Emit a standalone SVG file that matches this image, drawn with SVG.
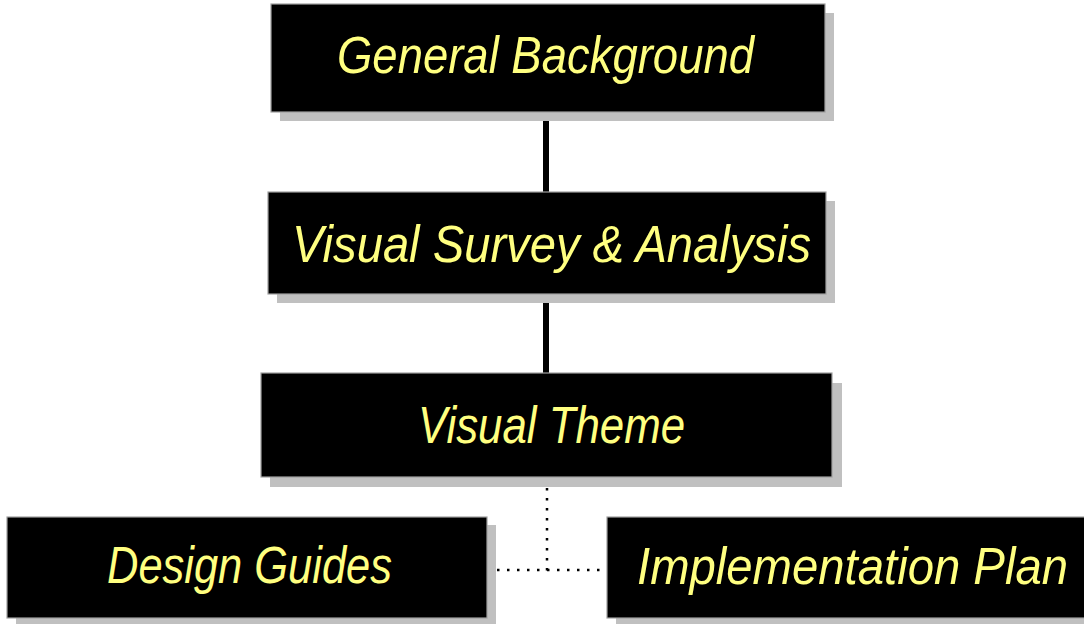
<svg xmlns="http://www.w3.org/2000/svg" width="1084" height="624" viewBox="0 0 1084 624">
<style>
.shadow{fill:#c0c0c0}
.box{fill:#000;stroke:#a0a0a0;stroke-width:1.2}
.lbl{font-family:"Liberation Sans Narrow","Liberation Sans",Arial,sans-serif;font-style:italic;font-size:52px;fill:#ffff80}
.solid{stroke:#000;stroke-width:6;fill:none}
.dot{stroke:#000;stroke-width:2.5;stroke-dasharray:2.5 7.5;fill:none}
</style>
<rect width="1084" height="624" fill="#fff"/>
<g id="connectors">
<line class="solid" x1="546" y1="120" x2="546" y2="193"/>
<line class="solid" x1="546" y1="301" x2="546" y2="374"/>
<line class="dot" x1="547" y1="488" x2="547" y2="571"/>
<line class="dot" x1="497" y1="570" x2="600" y2="570"/>
</g>
<g id="general-background">
<rect class="shadow" x="280" y="13" width="554" height="108"/>
<rect class="box" x="271" y="4" width="554" height="108"/>
<text class="lbl" x="337" y="73" textLength="417" lengthAdjust="spacingAndGlyphs">General Background</text>
</g>
<g id="visual-survey">
<rect class="shadow" x="277" y="201" width="558" height="102"/>
<rect class="box" x="268" y="192" width="558" height="102"/>
<text class="lbl" x="292" y="262" textLength="519" lengthAdjust="spacingAndGlyphs">Visual Survey &amp; Analysis</text>
</g>
<g id="visual-theme">
<rect class="shadow" x="270" y="383" width="572" height="104"/>
<rect class="box" x="261" y="373" width="571" height="104"/>
<text class="lbl" x="418" y="443" textLength="267" lengthAdjust="spacingAndGlyphs">Visual Theme</text>
</g>
<g id="design-guides">
<rect class="shadow" x="16" y="525" width="480" height="101"/>
<rect class="box" x="7" y="517" width="480" height="101"/>
<text class="lbl" x="107" y="583" textLength="285" lengthAdjust="spacingAndGlyphs">Design Guides</text>
</g>
<g id="implementation-plan">
<rect class="shadow" x="616" y="525" width="490" height="101"/>
<rect class="box" x="607" y="517" width="490" height="101"/>
<text class="lbl" x="637" y="584" textLength="431" lengthAdjust="spacingAndGlyphs">Implementation Plan</text>
</g>
</svg>
